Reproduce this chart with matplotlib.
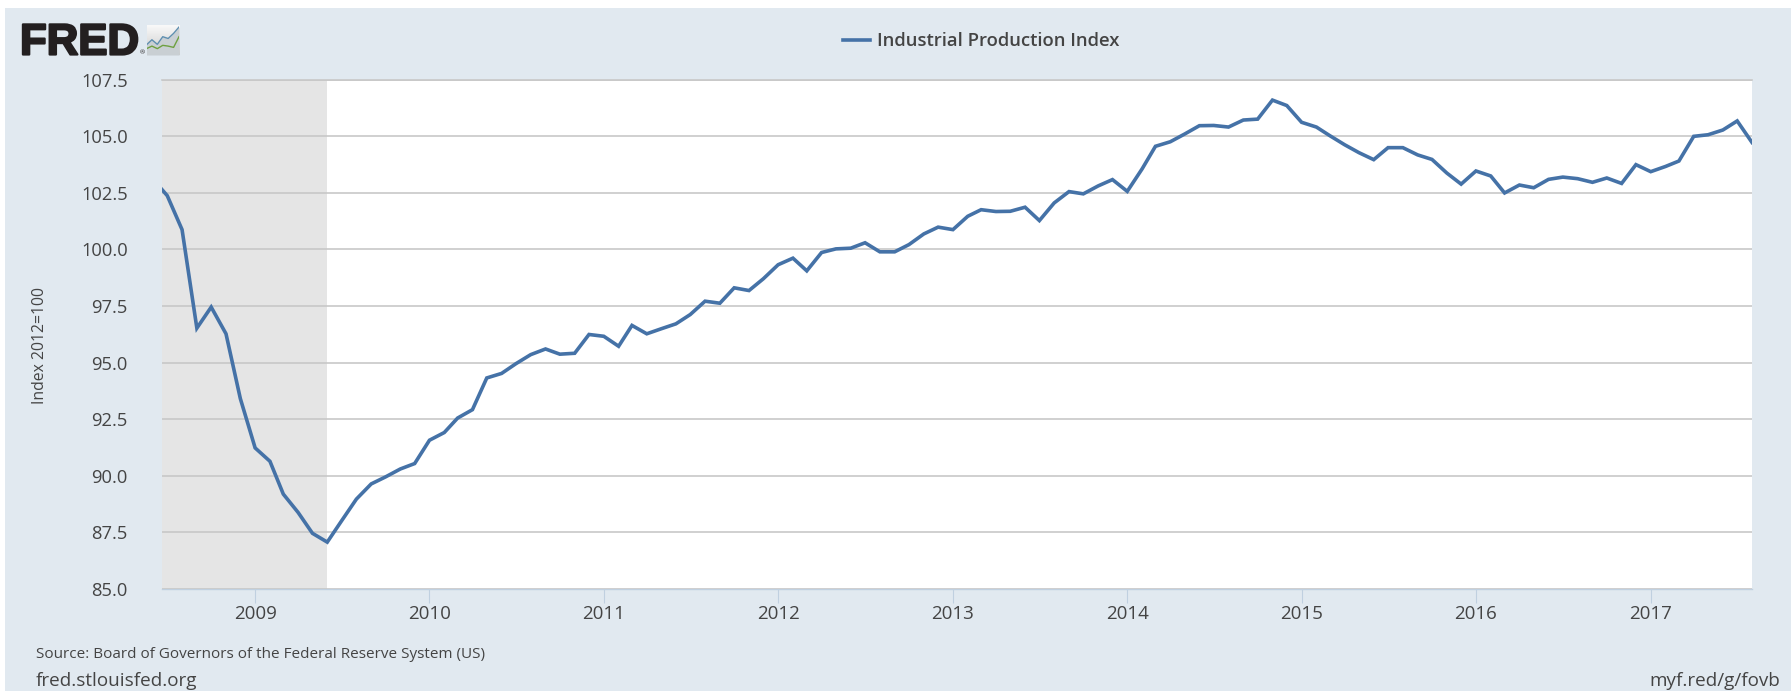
import numpy as np
import pandas as pd
import matplotlib
matplotlib.use("Agg")
import matplotlib.pyplot as plt
import matplotlib.dates as mdates
import matplotlib.patheffects as pe
from matplotlib.patches import Rectangle

plt.rcParams['font.family'] = ['Open Sans', 'DejaVu Sans']

W, H = 1791, 691
TEXT = '#444444'
PANEL = '#e1e9f0'
LINE = '#4572a7'

months = pd.date_range('2008-06-01', '2017-08-01', freq='MS')
values = [
    103.10, 102.37, 100.87, 96.52, 97.45, 96.27, 93.41,
    91.23, 90.64, 89.19, 88.38, 87.46, 87.07, 88.01, 88.97, 89.64, 89.95, 90.30, 90.54,
    91.57, 91.91, 92.55, 92.92, 94.32, 94.52, 94.95, 95.35, 95.60, 95.37, 95.41, 96.24,
    96.16, 95.72, 96.64, 96.27, 96.49, 96.71, 97.12, 97.71, 97.62, 98.30, 98.18, 98.70,
    99.32, 99.61, 99.05, 99.86, 100.02, 100.05, 100.29, 99.89, 99.89, 100.21, 100.68, 100.98,
    100.87, 101.46, 101.75, 101.67, 101.68, 101.86, 101.27, 102.05, 102.55, 102.45, 102.80, 103.08,
    102.56, 103.55, 104.55, 104.75, 105.09, 105.46, 105.47, 105.40, 105.71, 105.75, 106.59, 106.35,
    105.61, 105.40, 105.02, 104.62, 104.27, 103.96, 104.49, 104.49, 104.17, 103.97, 103.37, 102.88,
    103.46, 103.24, 102.49, 102.84, 102.72, 103.09, 103.19, 103.12, 102.96, 103.15, 102.91, 103.74,
    103.43, 103.66, 103.90, 104.99, 105.06, 105.27, 105.67, 104.72,
]
x_start = '2008-06-20'
x_end = '2017-08-01'
recession = ('2008-06-20', '2009-06-01')
y_ticks = [85.0, 87.5, 90.0, 92.5, 95.0, 97.5, 100.0, 102.5, 105.0, 107.5]
years = list(range(2009, 2018))

# logo icon
icon_x = [0, 1, 2, 3, 4, 5, 6]
icon_blue = [0.30, 0.50, 0.32, 0.62, 0.55, 0.75, 1.0]
icon_green = [0.15, 0.25, 0.15, 0.28, 0.25, 0.20, 0.62]


def px_axes(x0, y0, x1, y1, **kw):
    return fig.add_axes([x0 / W, 1 - y1 / H, (x1 - x0) / W, (y1 - y0) / H], **kw)


def fig_text(x, y, s, **kw):
    return fig.text(x / W, 1 - y / H, s, **kw)


fig = plt.figure(figsize=(W / 100, H / 100), dpi=100, facecolor='white')
fig.add_artist(Rectangle((5 / W, 0), 1 - 5 / W, 1 - 8 / H, transform=fig.transFigure,
                         facecolor=PANEL, edgecolor='none', zorder=-5))

ax = px_axes(162, 79.5, 1752, 589)
ax.set_facecolor('white')
ax.axvspan(pd.Timestamp(recession[0]), pd.Timestamp(recession[1]), color='#e5e5e5', lw=0, zorder=1)
ax.plot(months, values, color=LINE, lw=2.6, solid_joinstyle='miter', zorder=3,
        label='Industrial Production Index')

ax.set_xlim(pd.Timestamp(x_start), pd.Timestamp(x_end))
ax.set_ylim(85, 107.5)
ax.set_yticks(y_ticks)
ax.set_yticklabels(['%.1f' % v for v in y_ticks])
ax.set_xticks([pd.Timestamp(f'{y}-01-01') for y in years])
ax.xaxis.set_major_formatter(mdates.DateFormatter('%Y'))
ax.grid(axis='y', color='#c8c8c8', lw=1.2, zorder=2)
ax.set_axisbelow(False)
for s in ['left', 'right']:
    ax.spines[s].set_visible(False)
ax.spines['top'].set_color('#c8c8c8')
ax.spines['top'].set_linewidth(1.2)
ax.spines['bottom'].set_color('#c0d0e0')
ax.spines['bottom'].set_linewidth(1)
ax.tick_params(axis='y', length=0, pad=24.5, labelsize=13.2, labelcolor=TEXT)
ax.tick_params(axis='x', length=10, width=0.8, color='#c0d0e0', pad=1.5, labelsize=13.5, labelcolor=TEXT)

fig_text(40, 345, 'Index 2012=100', rotation=90, ha='center', va='center', fontsize=11.3, color=TEXT)
fig_text(36, 655, 'Source: Board of Governors of the Federal Reserve System (US)',
         ha='left', va='center', fontsize=10.95, color=TEXT)
fig_text(36, 681, 'fred.stlouisfed.org', ha='left', va='center', fontsize=13.6, color=TEXT)
fig_text(1780, 681, 'myf.red/g/fovb', ha='right', va='center', fontsize=13.6, color=TEXT)

fig.legend(*ax.get_legend_handles_labels(), loc='center', bbox_to_anchor=(981 / W, 1 - 41.5 / H),
           frameon=False, prop={'size': 13.3, 'weight': 600}, labelcolor=TEXT,
           handlelength=1.5, handletextpad=0.35)

# logo
fig_text(20, 54.5, 'FRED', ha='left', va='baseline', fontsize=31.5, color='#231f20',
         family=['Liberation Sans'], weight='bold',
         path_effects=[pe.withStroke(linewidth=1.6, foreground='#231f20')])
fig_text(142, 53, '®', ha='center', va='center', fontsize=4.5, color='#231f20')
icon = px_axes(146.5, 24.5, 179, 55)
icon.set_axis_off()
icon.imshow(np.linspace(0.98, 0.8, 40).reshape(-1, 1), extent=[0, 6, -0.1, 1.1], aspect='auto',
            cmap='gray', vmin=0, vmax=1)
icon.fill_between(icon_x, icon_blue, -0.1, color='#c9cfd3', lw=0)
icon.plot(icon_x, icon_blue, color='#5f8fb0', lw=1)
icon.plot(icon_x, icon_green, color='#6ea040', lw=1)

fig.savefig('out.png', dpi=100, facecolor=fig.get_facecolor())
